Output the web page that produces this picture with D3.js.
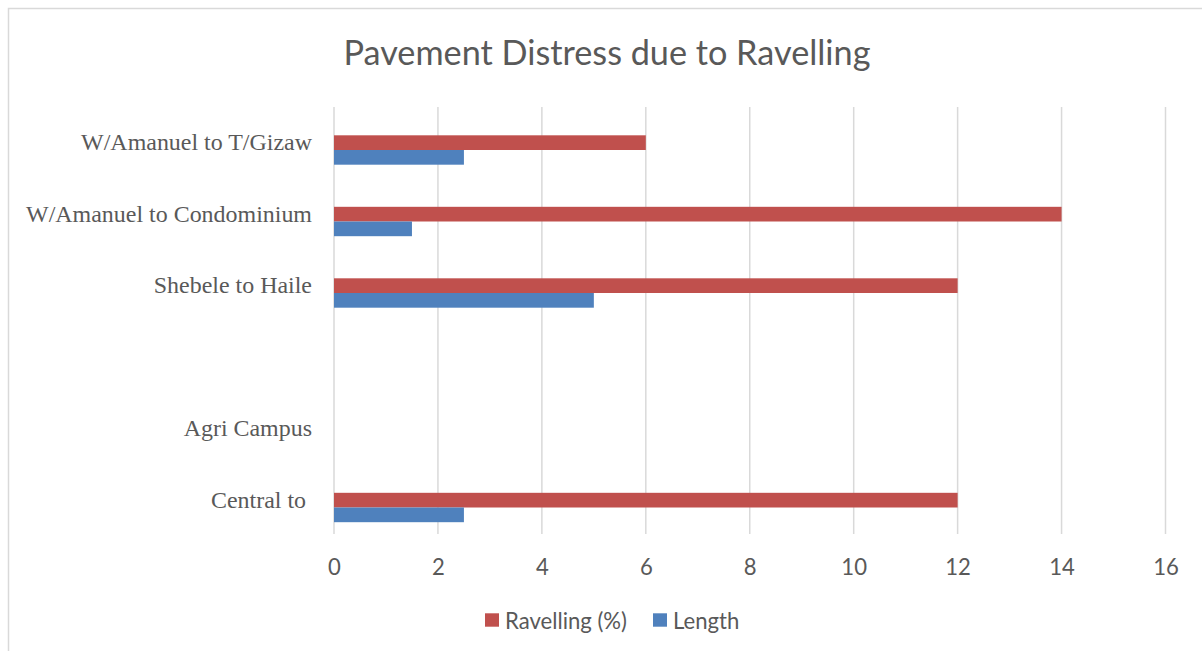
<!DOCTYPE html>
<html>
<head>
<meta charset="utf-8">
<script src="https://cdn.jsdelivr.net/npm/d3@7"></script>
<style>
  html, body { margin: 0; padding: 0; background: #fff; }
  svg { display: block; }
</style>
</head>
<body>
<svg id="chart" width="1202" height="651"></svg>
<script>
// ---- data ----
const title = "Pavement Distress due to Ravelling";
const categories = ["W/Amanuel to T/Gizaw", "W/Amanuel to Condominium", "Shebele to Haile", "", "Agri Campus", "Central to "];
const ravelling = [6, 14, 12, null, null, 12];
const lengthVals = [2.5, 1.5, 5, null, null, 2.5];
const seriesNames = ["Ravelling (%)", "Length"];
const seriesColors = ["#C0504D", "#4F81BD"];
const xTicks = [0, 2, 4, 6, 8, 10, 12, 14, 16];

// ---- layout ----
const W = 1202, H = 651;
const plot = { left: 334, right: 1165.5, top: 107, bottom: 534 };
const bandTop = 114.25, bandBottom = 543.25;
const textGray = "#595959";
const gridGray = "#d9d9d9";
const sansFont = "Lato, 'Open Sans', sans-serif";
const serifFont = "'Liberation Serif', 'DejaVu Serif', serif";

const svg = d3.select("#chart");

// frame
svg.append("rect")
  .attr("x", 8.5).attr("y", 8.5)
  .attr("width", W + 20).attr("height", H + 20)
  .attr("fill", "#fff").attr("stroke", gridGray).attr("stroke-width", 1.5);

// helper: fit font size to a target width
function fitSize(family, text, target, weight) {
  const t = svg.append("text").attr("font-family", family).attr("font-size", 100)
    .attr("font-weight", weight || "normal").text(text);
  const w = t.node().getComputedTextLength();
  t.remove();
  return 100 * target / w;
}

const titleSize = fitSize(sansFont, title, 527);
const smallSans = fitSize(sansFont, "Ravelling (%)", 122);
const catSize = fitSize(serifFont, "W/Amanuel to Condominium", 286);

// scales
const x = d3.scaleLinear().domain([0, 16]).range([plot.left, plot.right]);
const p = 0.589;
const y = d3.scaleBand().domain(categories).range([bandTop, bandBottom])
  .paddingInner(p).paddingOuter(p / 2);
const ySub = d3.scaleBand().domain(seriesNames).range([0, y.bandwidth()]);

// title
svg.append("text")
  .attr("x", 607).attr("y", 65)
  .attr("text-anchor", "middle")
  .attr("font-family", sansFont).attr("font-size", titleSize)
  .attr("fill", textGray).text(title);

// gridlines
svg.append("g").selectAll("line").data(xTicks).join("line")
  .attr("x1", d => x(d)).attr("x2", d => x(d))
  .attr("y1", plot.top).attr("y2", plot.bottom)
  .attr("stroke", gridGray).attr("stroke-width", 1.5);

// x axis labels via d3 axis
const xAxis = svg.append("g")
  .attr("transform", `translate(0, ${plot.bottom})`)
  .call(d3.axisBottom(x).tickValues(xTicks).tickSize(0).tickPadding(0).tickFormat(d3.format("d")));
xAxis.select(".domain").remove();
xAxis.selectAll("text")
  .attr("y", 41).attr("dy", null)
  .attr("font-family", sansFont).attr("font-size", smallSans)
  .attr("fill", textGray);

// category labels via d3 axis
const yAxis = svg.append("g")
  .attr("transform", `translate(${312}, 0)`)
  .call(d3.axisLeft(y).tickSize(0).tickPadding(0));
yAxis.select(".domain").remove();
yAxis.selectAll("text")
  .attr("x", 0).attr("dy", null)
  .attr("dominant-baseline", "alphabetic")
  .attr("text-anchor", "end")
  .style("white-space", "pre")
  .attr("font-family", serifFont).attr("font-size", catSize)
  .attr("fill", textGray);
// baseline at band center
yAxis.selectAll(".tick").attr("transform", d => `translate(0, ${y(d) + y.bandwidth() / 2})`);

// bars
const seriesData = [ravelling, lengthVals];
seriesNames.forEach((name, si) => {
  const rows = categories.map((c, i) => ({ c, v: seriesData[si][i] })).filter(d => d.v != null);
  svg.append("g").selectAll("rect").data(rows).join("rect")
    .attr("x", x(0))
    .attr("y", d => y(d.c) + ySub(name))
    .attr("width", d => x(d.v) - x(0))
    .attr("height", ySub.bandwidth())
    .attr("fill", seriesColors[si]);
});

// legend
const legendItems = [
  { name: seriesNames[0], color: seriesColors[0], x: 485 },
  { name: seriesNames[1], color: seriesColors[1], x: 653 }
];
const lg = svg.append("g");
legendItems.forEach(it => {
  lg.append("rect").attr("x", it.x).attr("y", 613.3).attr("width", 14).attr("height", 13.4)
    .attr("fill", it.color);
  lg.append("text").attr("x", it.x + 20).attr("y", 620)
    .attr("dominant-baseline", "central")
    .attr("font-family", sansFont).attr("font-size", smallSans)
    .attr("fill", textGray).text(it.name);
});
</script>
</body>
</html>
